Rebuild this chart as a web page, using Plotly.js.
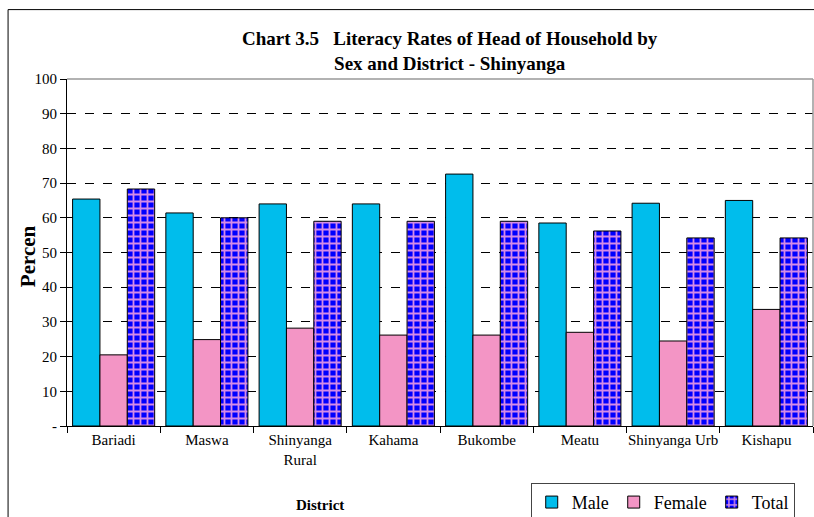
<!DOCTYPE html>
<html>
<head>
<meta charset="utf-8">
<script src="https://cdn.plot.ly/plotly-3.0.1.min.js"></script>
<style>
html,body{margin:0;padding:0;background:#fff;}
#chart{width:814px;height:517px;}
</style>
</head>
<body>
<div id="chart"></div>
<script>
const districts = ["Bariadi","Maswa","Shinyanga<br>Rural","Kahama","Bukombe","Meatu","Shinyanga Urb","Kishapu"];
const male   = [65.4, 61.4, 64.0, 64.0, 72.6, 58.5, 64.2, 65.0];
const female = [20.5, 24.9, 28.2, 26.2, 26.2, 27.0, 24.5, 33.6];
const total  = [68.3, 60.0, 59.0, 59.0, 59.0, 56.2, 54.2, 54.2];
const yTickVals = [0,10,20,30,40,50,60,70,80,90,100];
const yTickText = ["-","10","20","30","40","50","60","70","80","90","100"];

const serif = "Liberation Serif";
const edge = {color:"#000000", width:1};

const traces = [
  {type:"bar", name:"Male", x:districts, y:male,
   marker:{color:"#00bdec", line:edge}},
  {type:"bar", name:"Female", x:districts, y:female,
   marker:{color:"#f395c5", line:edge}},
  {type:"bar", name:"Total", x:districts, y:total,
   marker:{color:"#0000ff", line:edge,
     pattern:{shape:"+", bgcolor:"#0000ff", fgcolor:"#d58be6", size:7, solidity:0.45, fillmode:"replace"}}}
];

const layout = {
  width:814, height:517,
  margin:{l:67, r:1, t:79, b:91},
  paper_bgcolor:"#ffffff", plot_bgcolor:"#ffffff",
  barmode:"group", bargap:0.12, bargroupgap:0,
  showlegend:true,
  font:{family:serif, color:"#000"},
  title:{text:"<b>Chart 3.5   Literacy Rates of Head of Household by<br>Sex and District - Shinyanga</b>",
    font:{family:serif, size:19, color:"#000"},
    x:0.513, xanchor:"center", xref:"paper", y:0.913, yanchor:"middle", yref:"container", automargin:false},
  xaxis:{type:"category", showline:true, linecolor:"#000", linewidth:1,
    ticks:"outside", tickson:"boundaries", ticklen:6, tickcolor:"#000", tickangle:0, automargin:false,
    tickfont:{family:serif, size:15, color:"#000"}, showgrid:false, fixedrange:true},
  yaxis:{range:[0,100], tickvals:yTickVals, ticktext:yTickText, automargin:false,
    showline:true, linecolor:"#000", linewidth:1,
    ticks:"outside", ticklen:6, tickcolor:"#000",
    tickfont:{family:serif, size:15, color:"#000"},
    showgrid:true, gridcolor:"#000", griddash:"dash", gridwidth:1,
    zeroline:false, fixedrange:true},
  legend:{orientation:"h", xref:"container", x:0.652, xanchor:"left",
    yref:"container", y:0.066, yanchor:"top",
    bordercolor:"#444", borderwidth:1, bgcolor:"#fff",
    font:{family:serif, size:18, color:"#000"}, itemwidth:30, tracegroupgap:0},
  annotations:[
    {text:"<b>Percen</b>", xref:"paper", yref:"paper", x:-0.052, y:0.49,
     xanchor:"center", yanchor:"middle", textangle:-90, showarrow:false,
     font:{family:serif, size:21, color:"#000"}},
    {text:"<b>District</b>", xref:"paper", yref:"paper", x:0.339, y:-0.228,
     xanchor:"center", yanchor:"middle", showarrow:false,
     font:{family:serif, size:15, color:"#000"}}
  ],
  shapes:[
    {type:"line", xref:"paper", yref:"paper", x0:0, x1:1, y0:1, y1:1, line:{color:"#999", width:1.5}},
    {type:"line", xref:"paper", yref:"paper", x0:1, x1:1, y0:0, y1:1, line:{color:"#999", width:1.5}},
    {type:"line", xref:"paper", yref:"paper", x0:-0.079, x1:1.1, y0:1.2, y1:1.2, line:{color:"#000", width:1}},
    {type:"line", xref:"paper", yref:"paper", x0:-0.079, x1:-0.079, y0:-0.3, y1:1.2, line:{color:"#000", width:1}}
  ]
};

Plotly.newPlot("chart", traces, layout, {displayModeBar:false, staticPlot:true});
</script>
</body>
</html>
